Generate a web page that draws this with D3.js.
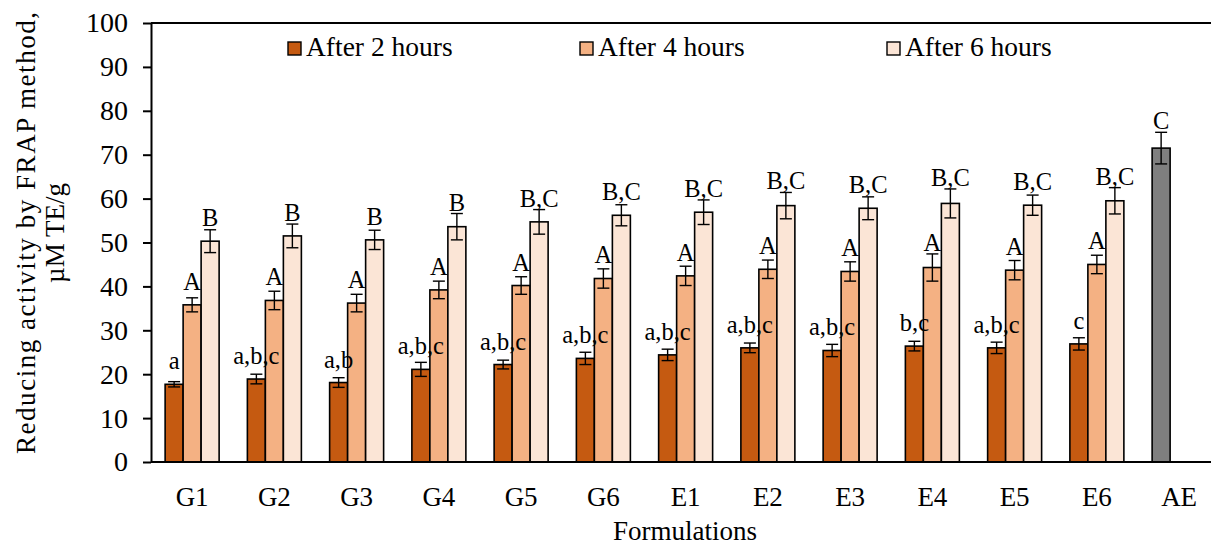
<!DOCTYPE html>
<html>
<head>
<meta charset="utf-8">
<script src="https://cdn.jsdelivr.net/npm/d3@7"></script>
<style>
  html, body { margin: 0; padding: 0; background: #fff; }
  svg { display: block; }
</style>
</head>
<body>
<svg id="chart" width="1211" height="548"></svg>
<script>
// Formulations on the x axis
const categories = ["G1", "G2", "G3", "G4", "G5", "G6", "E1", "E2", "E3", "E4", "E5", "E6", "AE"];
const seriesNames = ["After 2 hours", "After 4 hours", "After 6 hours"];

// Reducing activity (µM TE/g) per formulation, G1..E6
const after2 = [17.7, 18.9, 18.1, 21.1, 22.2, 23.6, 24.4, 26.0, 25.4, 26.4, 26.0, 26.9];
const after4 = [35.8, 36.8, 36.2, 39.2, 40.2, 41.8, 42.4, 43.9, 43.4, 44.3, 43.7, 45.0];
const after6 = [50.3, 51.5, 50.6, 53.6, 54.7, 56.2, 56.9, 58.4, 57.8, 58.9, 58.5, 59.5];

// Standard deviations
const err2 = [0.6, 1.1, 1.1, 1.6, 1.0, 1.4, 1.3, 1.1, 1.4, 1.1, 1.3, 1.4];
const err4 = [1.6, 2.1, 2.0, 2.0, 2.0, 2.2, 2.2, 2.1, 2.2, 3.1, 2.2, 2.1];
const err6 = [2.6, 2.7, 2.2, 3.0, 2.8, 2.4, 2.8, 3.0, 2.6, 3.3, 2.3, 3.0];

// Significance letters
const sig2 = ["a", "a,b,c", "a,b", "a,b,c", "a,b,c", "a,b,c", "a,b,c", "a,b,c", "a,b,c", "b,c", "a,b,c", "c"];
const sig4 = ["A", "A", "A", "A", "A", "A", "A", "A", "A", "A", "A", "A"];
const sig6 = ["B", "B", "B", "B", "B,C", "B,C", "B,C", "B,C", "B,C", "B,C", "B,C", "B,C"];

// Reference extract (AE)
const aeValue = 71.5;
const aeError = 3.6;
const aeSig = "C";

const yTicks = [0, 10, 20, 30, 40, 50, 60, 70, 80, 90, 100];

const seriesColors = ["#C55A11", "#F4B183", "#FBE5D6"];
const aeColor = "#7F7F7F";
const serif = "'Liberation Serif', 'Times New Roman', 'DejaVu Serif', serif";

const svg = d3.select("#chart").style("font-family", serif);
const plotLeft = 151, plotTop = 23, plotBottom = 462, plotRight = 1220.25;

const x = d3.scaleBand()
  .domain(categories)
  .range([plotLeft, plotRight])
  .paddingInner(0.3435)
  .paddingOuter(0.3435 / 2);

const xSub = d3.scaleBand()
  .domain(seriesNames)
  .range([0, x.bandwidth()]);

const y = d3.scaleLinear().domain([0, 100]).range([plotBottom, plotTop]);

// Build rows for the grouped bars
const groups = [after2, after4, after6];
const errs = [err2, err4, err6];
const sigs = [sig2, sig4, sig6];
const rows = [];
seriesNames.forEach((s, si) => {
  groups[si].forEach((v, ci) => {
    rows.push({ cat: categories[ci], series: s, value: v, err: errs[si][ci], sig: sigs[si][ci], color: seriesColors[si] });
  });
});
rows.push({ cat: "AE", series: seriesNames[0], value: aeValue, err: aeError, sig: aeSig, color: aeColor });

function label(sel, size) {
  return sel.style("font-family", serif).style("font-size", size + "px").attr("fill", "#000");
}

// Top border of the plot area
svg.append("line")
  .attr("x1", plotLeft).attr("x2", 1211)
  .attr("y1", y(100)).attr("y2", y(100))
  .attr("stroke", "#000").attr("stroke-width", 2);

// Y axis
const yAxis = svg.append("g")
  .attr("transform", `translate(${plotLeft},0)`)
  .call(d3.axisLeft(y).tickValues(yTicks).tickSize(8).tickSizeOuter(0).tickPadding(15));
yAxis.attr("font-family", null);
yAxis.select(".domain").attr("stroke", "#000").attr("stroke-width", 2);
yAxis.selectAll(".tick line").attr("stroke", "#000").attr("stroke-width", 2);
label(yAxis.selectAll(".tick text"), 28);

// Bars
svg.append("g").selectAll("rect")
  .data(rows)
  .join("rect")
  .attr("x", d => x(d.cat) + xSub(d.series))
  .attr("width", xSub.bandwidth())
  .attr("y", d => y(d.value))
  .attr("height", d => y(0) - y(d.value))
  .attr("fill", d => d.color)
  .attr("stroke", "#000")
  .attr("stroke-width", 1.6);

// Error bars
const capW = 12;
const eb = svg.append("g").attr("stroke", "#000").attr("stroke-width", 1.4);
rows.forEach(d => {
  const cx = x(d.cat) + xSub(d.series) + xSub.bandwidth() / 2;
  const y1 = y(d.value + d.err), y0 = y(d.value - d.err);
  eb.append("line").attr("x1", cx).attr("x2", cx).attr("y1", y1).attr("y2", y0);
  eb.append("line").attr("x1", cx - capW / 2).attr("x2", cx + capW / 2).attr("y1", y1).attr("y2", y1);
  eb.append("line").attr("x1", cx - capW / 2).attr("x2", cx + capW / 2).attr("y1", y0).attr("y2", y0);
});

// Significance letters above bars
label(svg.append("g").selectAll("text")
  .data(rows)
  .join("text")
  .attr("x", d => x(d.cat) + xSub(d.series) + xSub.bandwidth() / 2)
  .attr("y", d => Math.min(y(d.value) - 15, y(d.value + d.err) - 3))
  .attr("text-anchor", "middle")
  .text(d => d.sig), 24.5);

// X axis baseline and category labels
svg.append("line")
  .attr("x1", plotLeft).attr("x2", 1211)
  .attr("y1", y(0)).attr("y2", y(0))
  .attr("stroke", "#000").attr("stroke-width", 2);

label(svg.append("g").selectAll("text")
  .data(categories)
  .join("text")
  .attr("x", d => x(d) + x.bandwidth() / 2)
  .attr("y", 506)
  .attr("text-anchor", "middle")
  .text(d => d), 27);

// Axis titles
label(svg.append("text")
  .attr("x", 685)
  .attr("y", 540)
  .attr("text-anchor", "middle")
  .text("Formulations"), 27);

label(svg.append("text")
  .attr("transform", "translate(35,233) rotate(-90)")
  .attr("text-anchor", "middle")
  .attr("textLength", 442)
  .attr("lengthAdjust", "spacing")
  .text("Reducing activity by FRAP method,"), 27);

label(svg.append("text")
  .attr("transform", "translate(64,233) rotate(-90)")
  .attr("text-anchor", "middle")
  .text("µM TE/g"), 27);

// Legend
const legendX = [288, 580, 887];
const legend = svg.append("g");
seriesNames.forEach((s, i) => {
  legend.append("rect")
    .attr("x", legendX[i]).attr("y", 42)
    .attr("width", 13).attr("height", 13)
    .attr("fill", seriesColors[i])
    .attr("stroke", "#000").attr("stroke-width", 1.4);
  label(legend.append("text")
    .attr("x", legendX[i] + 18).attr("y", 56)
    .text(s), 27.5);
});
</script>
</body>
</html>
